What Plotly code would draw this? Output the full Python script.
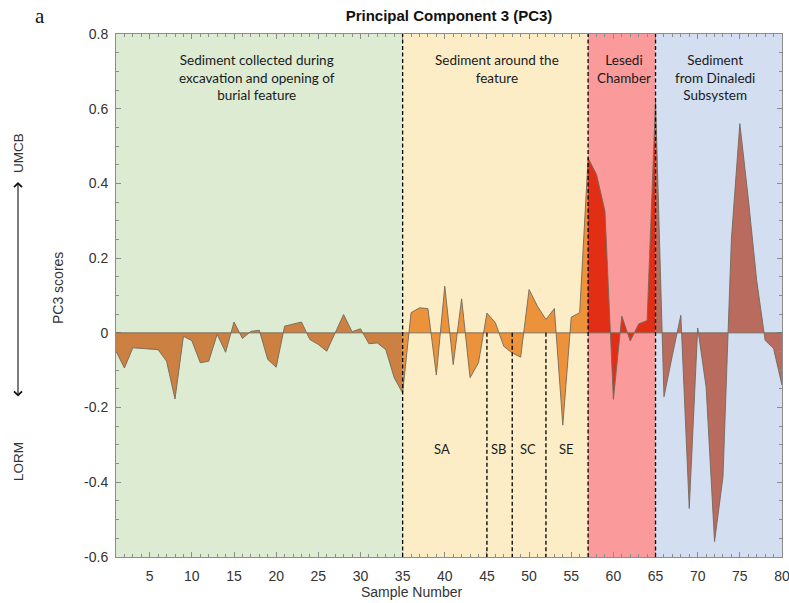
import plotly.graph_objects as go

# ---------------- data ----------------
samples = list(range(1, 81))
pc3 = [
    -0.049, -0.094, -0.040, -0.042, -0.043, -0.045, -0.076, -0.177, -0.009, -0.021,   # 1-10
    -0.080, -0.076, -0.004, -0.052, 0.029, -0.015, 0.004, 0.007, -0.071, -0.092,      # 11-20
    0.018, 0.024, 0.029, -0.018, -0.031, -0.049, 0.000, 0.049, 0.003, 0.011,          # 21-30
    -0.029, -0.027, -0.045, -0.120, -0.161, 0.054, 0.067, 0.065, -0.113, 0.125,       # 31-40
    -0.085, 0.091, -0.120, -0.080, 0.053, 0.027, -0.036, -0.054, -0.065, 0.116,       # 41-50
    0.071, 0.036, 0.065, -0.247, 0.042, 0.054, 0.468, 0.424, 0.326, -0.178,           # 51-60
    0.045, -0.022, 0.024, 0.033, 0.620, -0.171, -0.060, 0.047, -0.470, 0.013,         # 61-70
    -0.145, -0.559, -0.385, 0.252, 0.560, 0.360, 0.140, -0.020, -0.042, -0.140,       # 71-80
]
section_bounds = [1, 35, 57, 65, 80]
section_labels = [
    "Sediment collected during<br>excavation and opening of<br>burial feature",
    "Sediment around the<br>feature",
    "Lesedi<br>Chamber",
    "Sediment<br>from Dinaledi<br>Subsystem",
]
section_label_x = [17.7, 46.2, 61.2, 72.1]
sub_bounds = [45, 48, 52]
sub_labels = ["SA", "SB", "SC", "SE"]
sub_label_x = [39.7, 46.4, 49.9, 54.4]
y_ticks = [-0.6, -0.4, -0.2, 0, 0.2, 0.4, 0.6, 0.8]
y_ticktext = ["-0.6", "-0.4", "-0.2", "0", "0.2", "0.4", "0.6", "0.8"]
x_ticks = list(range(5, 81, 5))

# ---------------- styles ----------------
bg_colors = ["rgb(221,235,211)", "rgb(253,237,198)", "rgb(250,154,154)", "rgb(211,222,241)"]
fill_colors = ["rgb(204,128,66)", "rgb(236,146,58)", "rgb(226,46,20)", "rgb(185,108,94)"]
edge_color = "rgb(115,105,90)"
axis_color = "#8c8c8c"
txt_color = "#333333"

W, H = 789, 603
ml, mr, mt, mb = 116, 7, 34, 46
pw, ph = W - ml - mr, H - mt - mb


def px_to_paper_x(px):
    return (px - ml) / pw


def px_to_paper_y(py):
    return (H - mb - py) / ph


fig = go.Figure()

for i in range(4):
    a, b = section_bounds[i], section_bounds[i + 1]
    fig.add_trace(go.Scatter(
        x=samples[a - 1:b], y=pc3[a - 1:b], mode="lines",
        fill="tozeroy", fillcolor=fill_colors[i],
        line=dict(color=edge_color, width=0.9),
        hoverinfo="skip", showlegend=False,
    ))

shapes = []
for i in range(4):
    shapes.append(dict(type="rect", xref="x", yref="paper",
                       x0=section_bounds[i], x1=section_bounds[i + 1], y0=0, y1=1,
                       fillcolor=bg_colors[i], line=dict(width=0), layer="below"))
# zero baseline
shapes.append(dict(type="line", xref="paper", yref="y", x0=0, x1=1, y0=0, y1=0,
                   line=dict(color=edge_color, width=0.9), layer="above"))
# full-height dashed section dividers
for xb in section_bounds[1:-1]:
    shapes.append(dict(type="line", xref="x", yref="paper", x0=xb, x1=xb, y0=0, y1=1,
                       line=dict(color="black", width=1.3, dash="4px,2.5px"), layer="above"))
# sub-divisions from zero down
for xb in sub_bounds:
    shapes.append(dict(type="line", xref="x", yref="y", x0=xb, x1=xb, y0=0, y1=-0.6,
                       line=dict(color="black", width=1.3, dash="4px,2.5px"), layer="above"))

annotations = []
for lab, xl in zip(section_labels, section_label_x):
    annotations.append(dict(text=lab, x=xl, xref="x", y=px_to_paper_y(50), yref="paper",
                            yanchor="top", xanchor="center", showarrow=False, align="center",
                            font=dict(family="Lato", size=13.5, color="#1a1a1a")))
for lab, xl in zip(sub_labels, sub_label_x):
    annotations.append(dict(text=lab, x=xl, xref="x", y=-0.31, yref="y",
                            xanchor="center", yanchor="middle",
                            showarrow=False, font=dict(family="Lato", size=13, color="#1a1a1a")))


def note(text, px, py, size, family="Liberation Sans", angle=0, color=txt_color):
    return dict(text=text, x=px_to_paper_x(px), y=px_to_paper_y(py), xref="paper", yref="paper",
                xanchor="center", yanchor="middle", textangle=angle, showarrow=False,
                font=dict(family=family, size=size, color=color))


annotations += [
    note("a", 40, 16, 21, family="Liberation Serif", color="#111"),
    note("UMCB", 18, 153, 13.5, angle=-90),
    note("LORM", 18, 462, 13.5, angle=-90),
    note("PC3 scores", 58, 288, 14, angle=-90),
    note("Sample Number", 411, 592, 14),
    dict(text="", x=px_to_paper_x(18), y=px_to_paper_y(182), xref="paper", yref="paper",
         showarrow=True, ax=0, ay=216, arrowside="end+start", arrowhead=4, startarrowhead=4,
         arrowsize=1.4, startarrowsize=1.4, arrowwidth=1.1, arrowcolor="#111"),
]

fig.update_layout(
    width=W, height=H,
    margin=dict(l=ml, r=mr, t=mt, b=mb, pad=0, autoexpand=False),
    paper_bgcolor="white", plot_bgcolor="white",
    title=dict(text="<b>Principal Component 3 (PC3)</b>", x=(ml + pw / 2) / W, xref="container",
               xanchor="center", y=1 - 16 / H, yanchor="middle",
               font=dict(family="Liberation Sans", size=15, color="#111")),
    shapes=shapes, annotations=annotations, showlegend=False,
)
fig.update_xaxes(
    range=[1, 80.001], tickvals=x_ticks, ticks="inside", ticklen=5, tickcolor=axis_color,
    minor=dict(dtick=1, tick0=0, ticks="inside", ticklen=3, tickcolor=axis_color),
    showline=True, linecolor=axis_color, linewidth=1, mirror="allticks",
    showgrid=False, zeroline=False, ticklabelstandoff=6, ticklabeloverflow="allow",
    automargin=False,
    tickfont=dict(family="Liberation Sans", size=14, color=txt_color),
)
fig.update_yaxes(
    range=[-0.6, 0.8], tickvals=y_ticks, ticktext=y_ticktext, ticks="inside", ticklen=5,
    tickcolor=axis_color,
    minor=dict(dtick=0.05, tick0=0, ticks="inside", ticklen=3, tickcolor=axis_color),
    showline=True, linecolor=axis_color, linewidth=1, mirror="allticks",
    showgrid=False, zeroline=False, ticklabelstandoff=4, automargin=False,
    tickfont=dict(family="Liberation Sans", size=14, color=txt_color),
)

fig.write_html("out.html")
